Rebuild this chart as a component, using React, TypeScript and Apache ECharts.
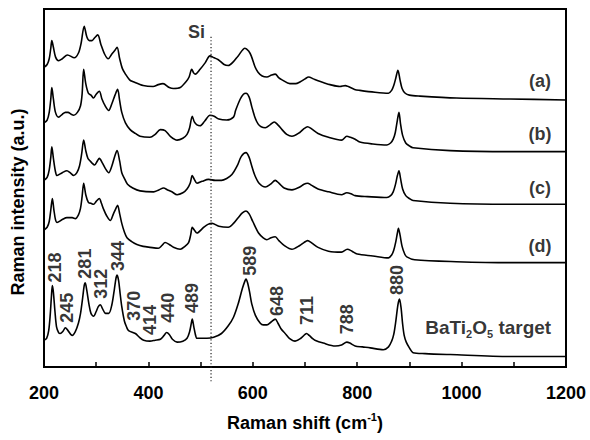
import React, { useEffect, useRef } from "react";
import * as echarts from "echarts";

// Raman shift (cm^-1) vs stacked intensity (arbitrary units, offsets included)
const curveA: [number, number][] = [
  [200,313],[206,316],[210,322],[213,333],[215,341],[218,334],[222,324],[228,320],[235,322],[245,326],[258,323],[266,328],[271,338],[277,356],[282,345],[287,341],[292,341],[297,344],[303,347],[309,337],[316,327],[323,322],[330,327],[336,331],[340,334],[345,322],[350,312],[356,306],[364,300],[371,298],[390,294],[409,293],[419,295],[428,296],[440,292],[448,291],[461,292],[472,298],[478,303],[483,311],[487,307],[490,306],[499,311],[509,318],[518,325],[526,323],[534,321],[545,316],[553,315],[563,319],[572,325],[585,333],[592,330],[597,325],[604,314],[610,308],[618,304],[627,303],[636,305],[643,306],[650,302],[656,300],[671,296],[682,296],[691,298],[700,301],[707,303],[716,301],[725,299],[736,297],[748,295],[767,293],[777,294],[783,293],[795,290],[805,289],[834,287],[860,286],[866,289],[870,294],[874,302],[878,310],[882,300],[886,291],[892,286],[900,284],[920,283],[990,281],[1092,280],[1200,279]
];
const curveB: [number, number][] = [
  [200,255],[206,258],[210,266],[213,280],[215,292],[218,280],[222,266],[228,261],[235,264],[241,266],[246,266],[252,264],[257,263],[264,266],[270,273],[273,285],[276,311],[280,296],[285,286],[290,284],[295,281],[300,285],[306,288],[311,280],[317,273],[324,268],[330,275],[336,284],[341,290],[345,278],[349,266],[356,255],[365,248],[375,244],[384,241],[403,240],[413,243],[423,248],[432,247],[442,241],[455,237],[466,239],[474,243],[479,250],[484,262],[488,256],[493,253],[499,252],[508,257],[518,263],[526,262],[535,259],[550,258],[563,261],[567,268],[576,280],[582,285],[587,286],[593,282],[598,272],[604,261],[610,254],[616,251],[624,250],[633,253],[641,256],[648,253],[656,248],[665,243],[675,241],[690,245],[698,249],[705,251],[712,249],[725,244],[745,240],[770,237],[780,241],[787,240],[796,238],[805,235],[830,233],[857,232],[864,234],[869,238],[873,245],[877,258],[880,266],[883,254],[887,242],[893,234],[900,231],[907,229],[978,226],[1092,225],[1200,225]
];
const curveC: [number, number][] = [
  [200,195],[206,198],[210,206],[213,219],[215,230],[218,218],[222,204],[225,200],[235,203],[244,205],[250,203],[257,200],[263,203],[268,210],[272,222],[276,237],[280,226],[284,218],[287,216],[292,213],[297,211],[302,215],[306,218],[312,213],[318,207],[324,203],[330,210],[336,221],[340,226],[345,215],[349,203],[355,196],[360,191],[370,187],[384,184],[410,183],[420,185],[429,187],[437,185],[445,183],[455,180],[466,182],[474,186],[480,192],[484,200],[488,196],[493,192],[503,194],[515,196],[528,195],[540,195],[550,197],[560,201],[570,210],[578,220],[587,224],[593,219],[598,210],[604,200],[612,192],[624,188],[634,191],[643,195],[650,192],[660,187],[675,185],[690,188],[698,191],[705,192],[712,190],[725,186],[745,183],[770,180],[780,182],[788,181],[796,179],[820,178],[857,177],[864,179],[869,183],[873,190],[877,200],[880,205],[883,197],[887,186],[893,179],[900,176],[907,174],[978,171],[1092,170],[1200,170]
];
const curveD: [number, number][] = [
  [200,143],[206,146],[210,152],[213,164],[216,176],[219,164],[222,154],[225,151],[235,154],[244,156],[254,156],[260,155],[266,159],[270,166],[273,178],[276,192],[280,180],[285,172],[290,171],[295,170],[300,173],[306,176],[310,171],[314,165],[320,158],[327,153],[333,160],[338,166],[341,169],[345,160],[349,150],[354,141],[359,135],[368,131],[378,128],[390,126],[403,125],[419,124],[426,127],[432,130],[440,128],[448,125],[461,123],[470,126],[477,130],[481,138],[484,146],[488,143],[493,140],[506,146],[514,149],[522,150],[535,147],[553,146],[563,150],[572,156],[580,161],[587,163],[593,160],[600,152],[611,140],[620,135],[627,133],[635,135],[643,136],[650,132],[660,127],[675,123],[690,127],[698,130],[705,132],[712,130],[725,125],[745,121],[770,120],[781,123],[790,121],[800,118],[830,116],[860,114],[866,117],[870,122],[874,131],[877,140],[879,145],[882,138],[886,126],[891,118],[895,115],[910,112],[990,110],[1092,109],[1200,109]
];
const curveTarget: [number, number][] = [
  [200,28],[205,30],[209,38],[212,55],[214,72],[216,85],[218,78],[221,58],[224,42],[228,36],[231,35],[236,37],[241,41],[246,38],[254,33],[260,37],[266,46],[270,56],[274,72],[277,85],[279,88],[282,80],[286,66],[290,56],[295,53],[300,58],[304,63],[308,65],[312,61],[318,56],[324,56],[330,65],[335,82],[338,93],[340,96],[343,90],[346,76],[349,63],[354,48],[358,42],[362,38],[375,35],[383,31],[391,28],[403,27],[413,28],[423,29],[430,33],[435,36],[440,34],[446,29],[455,26],[466,27],[474,30],[479,37],[482,45],[484,50],[487,42],[490,34],[493,30],[499,30],[512,30],[525,31],[540,35],[553,43],[563,52],[572,66],[580,82],[585,90],[587,92],[590,88],[594,78],[598,66],[605,54],[614,46],[620,44],[627,44],[635,47],[643,50],[648,46],[654,40],[662,35],[670,30],[681,27],[692,30],[700,34],[703,35],[708,33],[714,30],[719,28],[735,25],[758,22],[770,23],[780,26],[786,25],[796,22],[810,21],[825,20],[850,18],[860,21],[866,27],[870,34],[874,48],[878,65],[881,71],[884,62],[887,45],[890,33],[894,26],[900,20],[907,15],[930,14],[978,13],[1092,11],[1200,11]
];

const xTicks = [200, 400, 600, 800, 1000, 1200];

const peakNames = ["218","245","281","312","344","370","414","440","489","589","648","711","788","880"];
const peakLabelX = [222, 244, 279, 310, 341, 373, 403, 437, 483, 594, 646, 703, 780, 876];
const peakLabelY = [104, 62, 108, 87, 116, 64, 49, 62, 72, 111, 69, 59, 50, 91];

const tagNames = ["(a)", "(b)", "(c)", "(d)"];
const tagX = [1150, 1150, 1150, 1150];
const tagY = [299, 243, 187, 126];

const targetName = "{m|BaTi}{s|2}{m|O}{s|5}{m| target}";
const targetPos: [number, number] = [1051, 41];

const siName = "Si";
const siPos: [number, number] = [492, 350];
const siLine: [number, number][] = [[520, 345], [520, -17]];

const yTitle = "Raman intensity (a.u.)";
const xTitle = "Raman shift (cm{sup|-1})";

const FONT = "Liberation Sans, Arial, sans-serif";

export default function App() {
  const ref = useRef<HTMLDivElement>(null);
  useEffect(() => {
    if (!ref.current) return;
    const chart = echarts.init(ref.current, null, { renderer: "svg" });
    const curveSeries = [curveA, curveB, curveC, curveD, curveTarget].map((d, i) => ({
      type: "line",
      name: ["a", "b", "c", "d", "target"][i],
      data: d,
      showSymbol: false,
      symbol: "none",
      smooth: 0.3,
      silent: true,
      lineStyle: { color: "#000", width: 1.6 },
    }));
    const textBase = {
      fontFamily: FONT,
      fontWeight: "bold",
      color: "#000",
      fontSize: 18,
    };
    chart.setOption({
      animation: false,
      backgroundColor: "#fff",
      grid: {
        left: 44,
        right: 24,
        top: 9,
        bottom: 57,
        show: true,
        borderColor: "#000",
        borderWidth: 2,
        containLabel: false,
      },
      graphic: [
        {
          type: "text",
          x: 18,
          y: 202,
          rotation: Math.PI / 2,
          style: {
            text: yTitle,
            font: `bold 18px ${FONT}`,
            fill: "#000",
            align: "center",
            verticalAlign: "middle",
          },
        },
      ],
      xAxis: {
        type: "value",
        min: xTicks[0],
        max: xTicks[xTicks.length - 1],
        interval: 200,
        name: xTitle,
        nameLocation: "middle",
        nameGap: 44,
        nameTextStyle: {
          ...textBase,
          lineHeight: 24,
          rich: {
            sup: { fontFamily: FONT, fontWeight: "bold", color: "#000", fontSize: 11, lineHeight: 12, verticalAlign: "top" },
          },
        },
        axisLine: { lineStyle: { color: "#000", width: 2 } },
        axisTick: { inside: true, length: 5, lineStyle: { color: "#000", width: 1.5 } },
        minorTick: { show: true, splitNumber: 2, length: 5, lineStyle: { color: "#000", width: 1.5 } },
        axisLabel: { ...textBase, margin: 17, formatter: (v: number) => String(v) },
        splitLine: { show: false },
      },
      yAxis: {
        type: "value",
        min: 0,
        max: 374,
        axisLine: { show: true, lineStyle: { color: "#000", width: 2 } },
        axisTick: { show: false },
        axisLabel: { show: false },
        splitLine: { show: false },
      },
      series: [
        ...curveSeries,
        {
          type: "line",
          name: "Si",
          data: siLine,
          clip: false,
          showSymbol: false,
          symbol: "none",
          silent: true,
          lineStyle: { color: "#222", width: 1.2, type: [1.2, 2.2] },
        },
        {
          type: "scatter",
          name: "peaks",
          silent: true,
          symbolSize: 1,
          itemStyle: { color: "transparent" },
          data: peakNames.map((n, i) => ({ value: [peakLabelX[i], peakLabelY[i]], name: n })),
          label: {
            show: true,
            position: "inside",
            rotate: 90,
            formatter: (p: any) => p.name,
            ...textBase,
          },
        },
        {
          type: "scatter",
          name: "tags",
          silent: true,
          symbolSize: 1,
          itemStyle: { color: "transparent" },
          data: [
            ...tagNames.map((n, i) => ({ value: [tagX[i], tagY[i]], name: n })),
            { value: siPos, name: siName },
          ],
          label: {
            show: true,
            position: "inside",
            formatter: (p: any) => p.name,
            ...textBase,
          },
        },
        {
          type: "scatter",
          name: "targetLabel",
          silent: true,
          symbolSize: 1,
          itemStyle: { color: "transparent" },
          data: [{ value: targetPos, name: "target" }],
          label: {
            show: true,
            position: "inside",
            formatter: targetName,
            ...textBase,
            fontSize: 19,
            rich: {
              m: { fontFamily: FONT, fontWeight: "bold", color: "#000", fontSize: 19, lineHeight: 24 },
              s: { fontFamily: FONT, fontWeight: "bold", color: "#000", fontSize: 11, lineHeight: 12, padding: [12, 0, 0, 0] },
            },
          },
        },
      ],
    });
    return () => chart.dispose();
  }, []);
  return (
    <div
      ref={ref}
      style={{ position: "fixed", left: 0, top: 0, width: 590, height: 440, background: "#fff" }}
    />
  );
}
